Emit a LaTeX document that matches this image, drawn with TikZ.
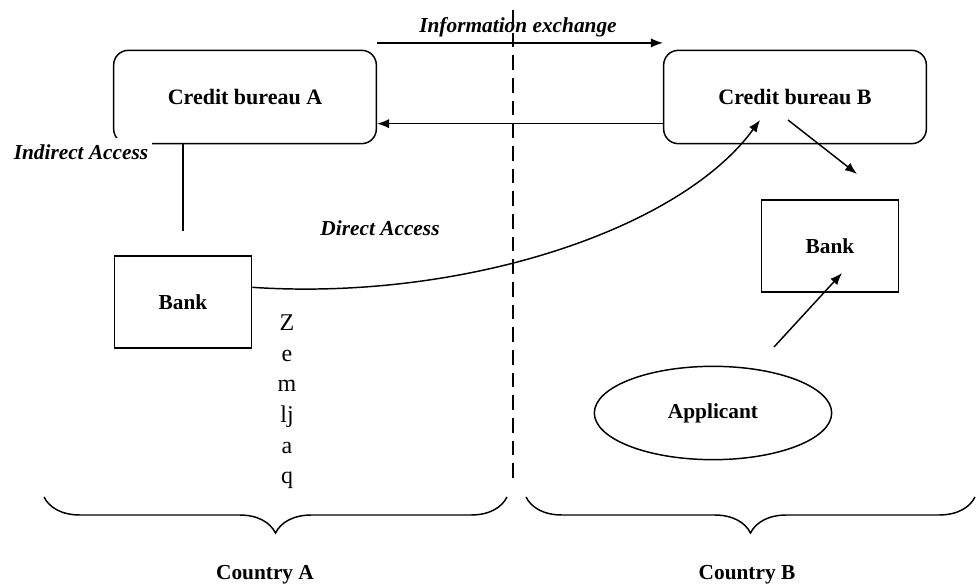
\documentclass[tikz,border=0pt]{standalone}
\usepackage{fontspec}
\setmainfont{Liberation Serif}
\usepackage{tikz}
\usetikzlibrary{arrows.meta,positioning,calc,shapes.geometric,decorations.pathreplacing}
\tikzstyle{bureau}=[draw,rounded corners=11pt,minimum width=197pt,minimum height=70pt,font=\fontsize{16.5}{19}\selectfont\bfseries]
\tikzstyle{bank}=[draw,minimum width=103pt,minimum height=69pt,font=\fontsize{16}{19}\selectfont\bfseries]
\tikzstyle{person}=[draw,ellipse,minimum width=178pt,minimum height=70pt,inner sep=0pt,font=\fontsize{16}{19}\selectfont\bfseries]
\tikzstyle{tag}=[font=\fontsize{16}{19}\selectfont\bfseries\itshape]
\tikzstyle{land}=[font=\fontsize{16}{19}\selectfont\bfseries]
\tikzstyle{arr}=[-{Latex[length=9pt,width=7pt]}]

\begin{document}
\begin{tikzpicture}[x=0.75pt,y=-0.75pt,line width=1.1pt,
  border/.style={line width=2pt,dash pattern=on 11pt off 6pt},
  brace/.style={decorate,decoration={brace,mirror,amplitude=27pt}}]
\useasboundingbox (0,0) rectangle (978,584);
\node [bureau] (bureauA) at (245,97) {Credit bureau A};
\node [bureau] (bureauB) at (795,97) {Credit bureau B};
\node [bank] (bankA) at (183,302) {Bank};
\node [bank] (bankB) at (830,246) {Bank};
\node [person] (applicant) at (713,413) {Applicant};
\node [tag, fill=white, inner xsep=3pt, inner ysep=5pt] (indirect) at (81,152) {Indirect Access};
\node [tag] (direct) at (380,228) {Direct Access};
\node [tag] (exchange) at (518,27) {Information exchange};
\node [align=center, font=\fontsize{18}{23}\selectfont] (zemlja) at (287,402) {Z\\e\\m\\lj\\a\\q};
\node [land] (countryA) at (265,575) {Country A};
\node [land] (countryB) at (747,575) {Country B};
\coordinate (borderTop) at (513,10);
\coordinate (borderBottom) at (513,480);
\coordinate (curveEnd) at (760,120);
\coordinate (toBankStart) at (788,120);
\coordinate (toBankEnd) at (857,174);
\coordinate (applyStart) at (774,347);
\coordinate (applyEnd) at (842,273);
\coordinate (braceA1) at (44,497);
\coordinate (braceA2) at (507,497);
\coordinate (braceB1) at (526,497);
\coordinate (braceB2) at (975,497);
\draw [border] (borderTop) -- (borderBottom);
\draw (bureauA.south -| bankA) -- ([yshift=18pt]bankA.north);
\draw [arr] ([yshift=5pt]bureauA.north east) -- ([yshift=5pt]bureauB.north west);
\draw [arr] ([yshift=-20pt]bureauB.west) -- ([yshift=-20pt]bureauA.east);
\draw [arr] ([yshift=11pt]bankA.east) .. controls +(210,14) and +(-80,110) .. (curveEnd);
\draw [arr] (toBankStart) -- (toBankEnd);
\draw [arr] (applyStart) -- (applyEnd);
\draw [brace] (braceA1) -- (braceA2);
\draw [brace] (braceB1) -- (braceB2);
\end{tikzpicture}
\end{document}
